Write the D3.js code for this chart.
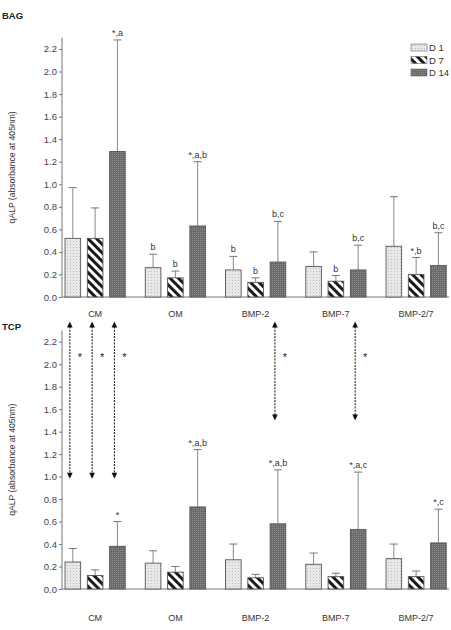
<!DOCTYPE html>
<html lang="en">
<head>
<meta charset="UTF-8">
<title>qALP BAG / TCP</title>
<script src="https://cdn.jsdelivr.net/npm/d3@7"></script>
<style>
  body { margin: 0; background: #fff; }
  svg { font-family: "Liberation Sans", Arial, sans-serif; }
</style>
</head>
<body>
<div id="chart"></div>
<script>
// categories and series
var groups = ["CM", "OM", "BMP-2", "BMP-7", "BMP-2/7"];
var days = ["D 1", "D 7", "D 14"];
var yTicks = [0.0, 0.2, 0.4, 0.6, 0.8, 1.0, 1.2, 1.4, 1.6, 1.8, 2.0, 2.2];

// BAG panel: mean and SD per group (D 1, D 7, D 14)
var bagMean = [[0.52, 0.52, 1.29], [0.26, 0.17, 0.63], [0.24, 0.13, 0.31], [0.27, 0.14, 0.24], [0.45, 0.20, 0.28]];
var bagSD   = [[0.45, 0.27, 0.99], [0.12, 0.06, 0.57], [0.12, 0.04, 0.36], [0.13, 0.05, 0.22], [0.44, 0.15, 0.29]];
var bagSig  = [["", "", "*,a"], ["b", "b", "*,a,b"], ["b", "b", "b,c"], ["", "b", "b,c"], ["", "*,b", "b,c"]];

// TCP panel
var tcpMean = [[0.24, 0.12, 0.38], [0.23, 0.15, 0.73], [0.26, 0.10, 0.58], [0.22, 0.11, 0.53], [0.27, 0.11, 0.41]];
var tcpSD   = [[0.12, 0.05, 0.22], [0.11, 0.05, 0.51], [0.14, 0.03, 0.48], [0.10, 0.03, 0.51], [0.13, 0.05, 0.30]];
var tcpSig  = [["", "", "*"], ["", "", "*,a,b"], ["", "", "*,a,b"], ["", "", "*,a,c"], ["", "", "*,c"]];

// BAG vs TCP comparison arrows (drawn in TCP panel)
var arrowGroup = ["CM", "CM", "CM", "BMP-2", "BMP-7"];
var arrowDay   = ["D 1", "D 7", "D 14", "D 14", "D 14"];
var arrowFrom  = [2.38, 2.38, 2.38, 2.38, 2.38];
var arrowTo    = [0.98, 0.98, 0.98, 1.50, 1.50];
var arrowStarY = 2.07;

var W = 451, H = 630;
var svg = d3.select("#chart").append("svg")
    .attr("width", W).attr("height", H);

var defs = svg.append("defs");

// D1: light stipple
var p1 = defs.append("pattern").attr("id", "pat0")
    .attr("patternUnits", "userSpaceOnUse").attr("width", 3).attr("height", 3);
p1.append("rect").attr("width", 3).attr("height", 3).attr("fill", "#e8e8e8");
p1.append("rect").attr("x", 1).attr("y", 1).attr("width", 1).attr("height", 1).attr("fill", "#bdbdbd");

// D7: black diagonal stripes
var p2 = defs.append("pattern").attr("id", "pat1")
    .attr("patternUnits", "userSpaceOnUse").attr("width", 6).attr("height", 6)
    .attr("patternTransform", "rotate(-45)");
p2.append("rect").attr("width", 6).attr("height", 6).attr("fill", "#fff");
p2.append("rect").attr("width", 3).attr("height", 6).attr("fill", "#1a1a1a");

// D14: dark dotted grey
var p3 = defs.append("pattern").attr("id", "pat2")
    .attr("patternUnits", "userSpaceOnUse").attr("width", 2).attr("height", 2);
p3.append("rect").attr("width", 2).attr("height", 2).attr("fill", "#6a6a6a");
p3.append("rect").attr("width", 1).attr("height", 1).attr("fill", "#8c8c8c");

var x0 = d3.scaleBand().domain(groups).range([55, 456.25])
    .paddingInner(0.25).paddingOuter(0.125);
var x1 = d3.scaleBand().domain(days).range([0, x0.bandwidth()])
    .paddingInner(0.3).paddingOuter(0);

function panel(opt) {
    var y = d3.scaleLinear().domain([0, 2.3]).range([opt.zero, opt.zero - 2.3 * opt.unit]);
    var g = svg.append("g");

    // y axis
    var ya = g.append("g").attr("transform", "translate(62,0)")
        .call(d3.axisLeft(y).tickValues(yTicks).tickFormat(d3.format(".1f")).tickSize(3).tickPadding(2));
    ya.select(".domain").attr("stroke", "#777").attr("d", "M0," + y(2.3) + "V" + y(0));
    ya.selectAll(".tick line").attr("stroke", "#777");
    ya.selectAll(".tick text").attr("fill", "#444").style("font-size", "9.5px");

    // baseline
    g.append("line").attr("x1", 62).attr("x2", 449)
        .attr("y1", y(0)).attr("y2", y(0)).attr("stroke", "#777");

    // y title
    g.append("text")
        .attr("transform", "translate(15," + ((y(0) + y(2.3)) / 2) + ") rotate(-90)")
        .attr("text-anchor", "middle").attr("fill", "#333")
        .style("font-size", "8.6px")
        .text("qALP (absorbance at 405nm)");

    // panel title
    g.append("text").attr("x", 2).attr("y", opt.titleY)
        .attr("fill", "#222").style("font-size", "9.5px").style("font-weight", "bold")
        .text(opt.title);

    // category labels
    g.selectAll(".cat").data(groups).enter().append("text")
        .attr("x", function(d) { return x0(d) + x0.bandwidth() / 2; })
        .attr("y", y(0) + opt.catOffset)
        .attr("text-anchor", "middle").attr("fill", "#333")
        .style("font-size", "9px")
        .text(function(d) { return d; });

    var rows = [];
    groups.forEach(function(gr, i) {
        days.forEach(function(dy, j) {
            rows.push({ g: gr, d: dy, j: j, m: opt.mean[i][j], sd: opt.sd[i][j], sig: opt.sig[i][j] });
        });
    });

    function cx(r) { return x0(r.g) + x1(r.d) + x1.bandwidth() / 2; }

    // error bars (upper only)
    var eb = g.selectAll(".err").data(rows).enter().append("g").attr("class", "err");
    eb.append("line")
        .attr("x1", cx).attr("x2", cx)
        .attr("y1", function(r) { return y(r.m); })
        .attr("y2", function(r) { return y(r.m + r.sd); })
        .attr("stroke", "#888").attr("stroke-width", 1);
    eb.append("line")
        .attr("x1", function(r) { return cx(r) - 4; })
        .attr("x2", function(r) { return cx(r) + 4; })
        .attr("y1", function(r) { return y(r.m + r.sd); })
        .attr("y2", function(r) { return y(r.m + r.sd); })
        .attr("stroke", "#777").attr("stroke-width", 1);

    // bars
    g.selectAll(".bar").data(rows).enter().append("rect")
        .attr("x", function(r) { return x0(r.g) + x1(r.d); })
        .attr("width", x1.bandwidth())
        .attr("y", function(r) { return y(r.m); })
        .attr("height", function(r) { return y(0) - y(r.m); })
        .attr("fill", function(r) { return "url(#pat" + r.j + ")"; })
        .attr("stroke", "#555").attr("stroke-width", 0.9);

    // significance labels
    g.selectAll(".sig").data(rows.filter(function(r) { return r.sig; })).enter().append("text")
        .attr("x", cx)
        .attr("y", function(r) { return y(r.m + r.sd) - 4; })
        .attr("text-anchor", "middle").attr("fill", "#333")
        .style("font-size", "9px")
        .text(function(r) { return r.sig; });

    return y;
}

panel({ title: "BAG", titleY: 19, zero: 297, unit: 112.75, catOffset: 20,
        mean: bagMean, sd: bagSD, sig: bagSig });
var yT = panel({ title: "TCP", titleY: 330, zero: 589, unit: 112.4, catOffset: 32,
        mean: tcpMean, sd: tcpSD, sig: tcpSig });

// comparison arrows
var ag = svg.append("g");
arrowGroup.forEach(function(gr, k) {
    var x = x0(gr) + x1(arrowDay[k]) + x1.bandwidth() / 2 - 3;
    var top = yT(arrowFrom[k]), bot = yT(arrowTo[k]);
    ag.append("line").attr("x1", x).attr("x2", x)
        .attr("y1", top + 5).attr("y2", bot - 5)
        .attr("stroke", "#222").attr("stroke-width", 1.1)
        .attr("stroke-dasharray", "2,1.2");
    ag.append("path")
        .attr("d", "M" + x + "," + top + "L" + (x - 2.8) + "," + (top + 6) + "L" + (x + 2.8) + "," + (top + 6) + "Z")
        .attr("fill", "#111");
    ag.append("path")
        .attr("d", "M" + x + "," + bot + "L" + (x - 2.8) + "," + (bot - 6) + "L" + (x + 2.8) + "," + (bot - 6) + "Z")
        .attr("fill", "#111");
    ag.append("text").attr("x", x + 10).attr("y", yT(arrowStarY) + 5)
        .attr("text-anchor", "middle").attr("fill", "#222")
        .style("font-size", "11px").text("*");
});

// legend
var lg = svg.append("g").attr("transform", "translate(411,44)");
days.forEach(function(d, j) {
    lg.append("rect").attr("x", 0).attr("y", j * 12.5).attr("width", 16).attr("height", 7)
        .attr("fill", "url(#pat" + j + ")").attr("stroke", "#666").attr("stroke-width", 0.6);
    lg.append("text").attr("x", 18).attr("y", j * 12.5 + 7)
        .attr("fill", "#333").style("font-size", "9.5px").text(d);
});
</script>
</body>
</html>
